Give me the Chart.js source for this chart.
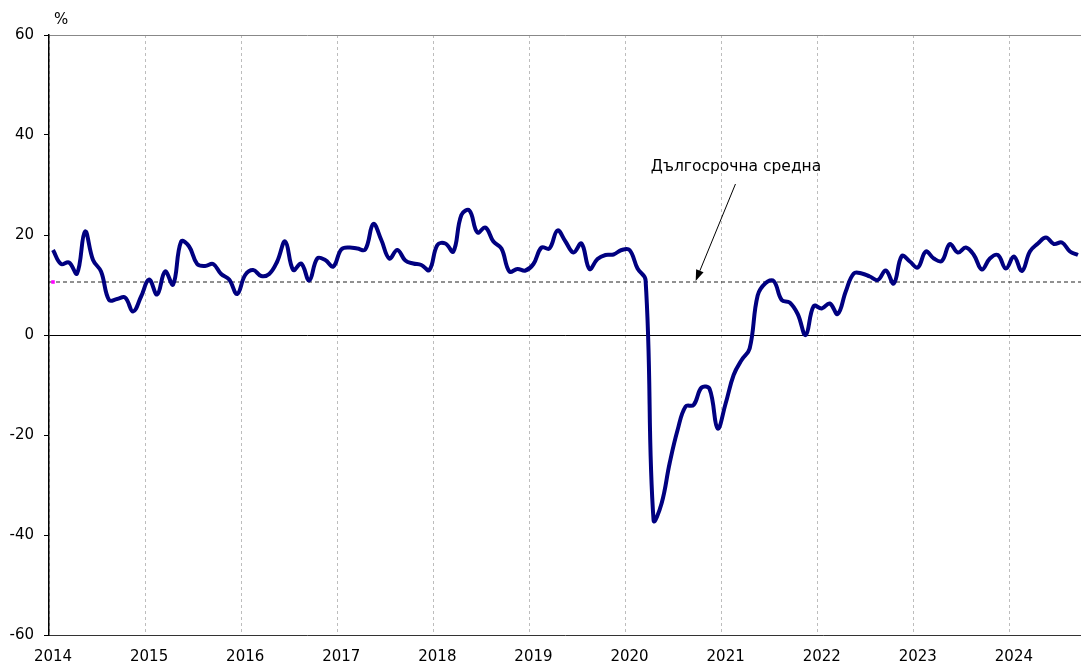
<!DOCTYPE html>
<html lang="bg">
<head>
<meta charset="utf-8">
<title>Бизнес климат</title>
<script src="https://cdn.jsdelivr.net/npm/chart.js@4/dist/chart.umd.min.js"></script>
<style>
    html, body { margin: 0; padding: 0; background: #fff; }
    #chart-wrap { width: 1081px; height: 665px; }
</style>
</head>
<body>
<div id="chart-wrap"><canvas id="climate-chart" width="1081" height="665"></canvas></div>
<script>
// Monthly values, Jan 2014 .. Sep 2024 (%)
var startYear = 2014;
var climate = [
    17.0, 14.2, 14.5, 12.3, 20.7, 15.0, 12.7, 7.0, 7.2, 7.5, 4.7, 7.7,      // 2014
    11.1, 8.1, 12.7, 10.1, 18.7, 17.7, 14.2, 13.8, 14.2, 12.2, 11.1, 8.2,   // 2015
    12.0, 13.0, 11.8, 12.2, 14.7, 18.7, 13.0, 14.3, 10.9, 15.3, 15.0, 13.7, // 2016
    17.1, 17.5, 17.3, 17.1, 22.2, 19.0, 15.3, 17.0, 14.9, 14.3, 14.0, 13.0, // 2017
    18.0, 18.3, 16.7, 24.0, 24.9, 20.5, 21.5, 18.7, 17.3, 12.7, 13.2, 12.9, // 2018
    14.2, 17.5, 17.3, 20.9, 18.7, 16.5, 18.3, 13.2, 15.2, 16.0, 16.1, 17.0, // 2019
    17.0, 13.3, 11.0, -37.0, -33.7, -25.7, -19.0, -14.3, -14.0, -10.5, -10.8, -18.7, // 2020
    -13.7, -8.0, -5.0, -2.7, 7.9, 10.4, 10.8, 7.0, 6.5, 4.2, 0.0, 5.8,       // 2021
    5.3, 6.3, 4.2, 8.7, 12.3, 12.3, 11.7, 11.0, 12.9, 10.3, 15.8, 14.7,     // 2022
    13.5, 16.7, 15.3, 14.8, 18.2, 16.5, 17.5, 16.0, 13.1, 15.3, 16.0, 13.3, // 2023
    15.7, 12.8, 16.7, 18.3, 19.5, 18.2, 18.5, 16.7, 16.0                    // 2024
];
var longTermAvg = 10.6;
var yearTicks = [2014, 2015, 2016, 2017, 2018, 2019, 2020, 2021, 2022, 2023, 2024];
var valueTicks = [-60, -40, -20, 0, 20, 40, 60];
var annotationText = 'Дългосрочна средна';
var unitText = '%';

(function() {
    'use strict';

    var xMin = startYear;
    var xMax = startYear + climate.length / 12 - 0.01;
    var fontFamily = '"DejaVu Sans", Verdana, sans-serif';

    // each month sits in the middle of its slot on the date axis
    var climatePoints = climate.map(function(v, i) {
        return { x: startYear + (i + 0.5) / 12, y: v };
    });

    /**
     * Draws the unit label and the arrow note for the long-term average
     */
    var notePlugin = {
        id: 'note',
        afterDraw: function(chart) {
            var ctx = chart.ctx;
            var sx = chart.scales.x;
            var sy = chart.scales.y;
            var area = chart.chartArea;

            ctx.save();
            ctx.fillStyle = '#000';
            ctx.font = '15px ' + fontFamily;
            ctx.textBaseline = 'middle';
            ctx.textAlign = 'left';
            ctx.fillText(unitText, area.left + 5, area.top - 15);

            ctx.font = '15.5px ' + fontFamily;
            ctx.textAlign = 'center';
            ctx.fillText(annotationText, sx.getPixelForValue(2021.15), sy.getPixelForValue(33.7));

            // arrow from the note down to the dashed line
            var x1 = sx.getPixelForValue(2021.144), y1 = sy.getPixelForValue(30.2);
            var x2 = sx.getPixelForValue(2020.73), y2 = sy.getPixelForValue(longTermAvg) - 1;
            var ang = Math.atan2(y2 - y1, x2 - x1);
            var head = 11, half = 4;
            ctx.strokeStyle = '#000';
            ctx.lineWidth = 1;
            ctx.beginPath();
            ctx.moveTo(x1, y1);
            ctx.lineTo(x2 - Math.cos(ang) * head, y2 - Math.sin(ang) * head);
            ctx.stroke();
            ctx.beginPath();
            ctx.moveTo(x2, y2);
            ctx.lineTo(x2 - Math.cos(ang) * head - Math.sin(ang) * half, y2 - Math.sin(ang) * head + Math.cos(ang) * half);
            ctx.lineTo(x2 - Math.cos(ang) * head + Math.sin(ang) * half, y2 - Math.sin(ang) * head - Math.cos(ang) * half);
            ctx.closePath();
            ctx.fill();
            ctx.restore();
        }
    };

    var ctx = document.getElementById('climate-chart');

    new Chart(ctx.getContext('2d'), {
        type: 'line',
        data: {
            datasets: [
                {
                    label: 'Бизнес климат',
                    data: climatePoints,
                    borderColor: '#000080',
                    borderWidth: 4,
                    pointRadius: 0,
                    tension: 0.4,
                    fill: false,
                    order: 1
                },
                {
                    label: annotationText,
                    data: [{ x: xMin, y: longTermAvg }, { x: xMax, y: longTermAvg }],
                    borderColor: '#222',
                    borderWidth: 1,
                    borderDash: [4, 3],
                    pointRadius: 0,
                    fill: false,
                    order: 2
                },
                {
                    label: 'marker',
                    data: [{ x: startYear + 0.5 / 12, y: longTermAvg }],
                    showLine: false,
                    pointStyle: 'rect',
                    pointRadius: 2.5,
                    backgroundColor: '#ff00ff',
                    borderColor: '#ff00ff',
                    borderWidth: 0,
                    order: 0
                }
            ]
        },
        options: {
            responsive: false,
            animation: false,
            events: [],
            layout: { autoPadding: false, padding: { top: 35, left: 0, right: 0, bottom: 0 } },
            plugins: {
                legend: { display: false },
                tooltip: { enabled: false }
            },
            scales: {
                x: {
                    type: 'linear',
                    min: xMin,
                    max: xMax,
                    afterBuildTicks: function(scale) {
                        scale.ticks = yearTicks.map(function(v) { return { value: v }; });
                    },
                    afterFit: function(scale) { scale.height = 30; },
                    grid: {
                        color: '#bdbdbd',
                        lineWidth: 1,
                        drawTicks: false
                    },
                    border: { display: true, color: '#333', width: 1, dash: [3, 3] },
                    ticks: {
                        color: '#000',
                        font: { family: fontFamily, size: 15 },
                        padding: 13,
                        labelOffset: 4,
                        maxRotation: 0,
                        callback: function(v) { return String(v); }
                    }
                },
                y: {
                    min: -60,
                    max: 60,
                    afterBuildTicks: function(scale) {
                        scale.ticks = valueTicks.map(function(v) { return { value: v }; });
                    },
                    afterFit: function(scale) { scale.width = 49; },
                    grid: {
                        color: function(c) {
                            if (!c.tick) return 'rgba(0,0,0,0)';
                            if (c.tick.value === 0) return '#000';
                            if (c.tick.value === 60) return '#888';
                            return 'rgba(0,0,0,0)';
                        },
                        tickColor: '#000',
                        tickLength: 5,
                        lineWidth: 1
                    },
                    border: { display: true, color: '#000', width: 1.5 },
                    ticks: {
                        color: '#000',
                        font: { family: fontFamily, size: 15 },
                        padding: 10,
                        callback: function(v) { return String(v); }
                    }
                }
            }
        },
        plugins: [notePlugin]
    });
})();
</script>
</body>
</html>
